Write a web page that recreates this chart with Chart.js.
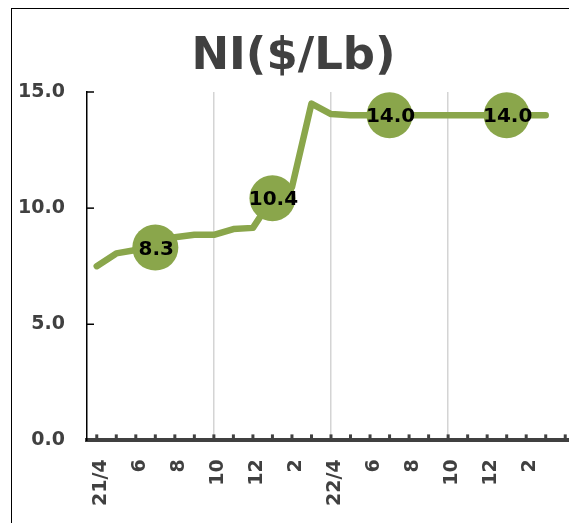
<!DOCTYPE html>
<html>
<head>
<meta charset="utf-8">
<script src="https://cdn.jsdelivr.net/npm/chart.js@4.4.1/dist/chart.umd.min.js"></script>
<style>
  html, body { margin: 0; padding: 0; overflow: hidden; background: #fff; }
  #frame { position: absolute; left: 11px; top: 8px; width: 600px; height: 540px; border: 1.5px solid #000; background: #fff; }
  #frame canvas { display: block; }
</style>
</head>
<body>
<div id="frame"><canvas id="niChart" width="600" height="540"></canvas></div>
<script>
// monthly, 2021/4 .. 2023/3 (one empty slot at the end)
var months = ["21/4", "5", "6", "7", "8", "9", "10", "11", "12", "1", "2", "3",
              "22/4", "5", "6", "7", "8", "9", "10", "11", "12", "1", "2", "3", ""];
var niPrice = [7.5, 8.05, 8.2, 8.3, 8.75, 8.85, 8.85, 9.1, 9.15, 10.43, 10.9, 14.5,
               14.05, 14.0, 14.0, 14.0, 14.0, 14.0, 14.0, 14.0, 14.0, 14.0, 14.0, 14.0];
var labeledPoints = [3, 9, 15, 21];
var gridMonths = [6, 12, 18];
var yTicks = [0, 5, 10, 15];

var green = "#8aa64b";
var font = "DejaVu Sans";

// tick marks pointing into the plot, like the original
var inwardTicks = {
    id: "inwardTicks",
    beforeDatasetsDraw: function (chart) {
        var ctx = chart.ctx, x = chart.scales.x, y = chart.scales.y, area = chart.chartArea;
        ctx.save();
        ctx.strokeStyle = "#404040";
        ctx.lineWidth = 3;
        for (var i = 0; i < x.ticks.length; i++) {
            var px = x.getPixelForTick(i);
            ctx.beginPath();
            ctx.moveTo(px, area.bottom);
            ctx.lineTo(px, area.bottom - 6);
            ctx.stroke();
        }
        ctx.strokeStyle = "#000";
        ctx.lineWidth = 1.5;
        yTicks.forEach(function (v) {
            if (v === 0) return;
            var py = y.getPixelForValue(v);
            ctx.beginPath();
            ctx.moveTo(area.left, py);
            ctx.lineTo(area.left + 7, py);
            ctx.stroke();
        });
        ctx.restore();
    }
};

// value labels on top of the big dots
var pointLabels = {
    id: "pointLabels",
    afterDatasetsDraw: function (chart) {
        var ctx = chart.ctx;
        var meta = chart.getDatasetMeta(0);
        ctx.save();
        ctx.font = "bold 20px '" + font + "'";
        ctx.fillStyle = "#000";
        ctx.textAlign = "center";
        ctx.textBaseline = "middle";
        labeledPoints.forEach(function (i) {
            var pt = meta.data[i];
            ctx.fillText(niPrice[i].toFixed(1), pt.x + 1, pt.y + 2);
        });
        ctx.restore();
    }
};

new Chart("niChart", {
    type: "line",
    data: {
        labels: months,
        datasets: [{
            data: niPrice,
            borderColor: green,
            borderWidth: 6.5,
            borderJoinStyle: "round",
            borderCapStyle: "round",
            tension: 0,
            pointRadius: function (c) { return labeledPoints.indexOf(c.dataIndex) >= 0 ? 23 : 0; },
            pointHoverRadius: function (c) { return labeledPoints.indexOf(c.dataIndex) >= 0 ? 23 : 0; },
            pointBackgroundColor: green,
            pointBorderWidth: 0
        }]
    },
    plugins: [inwardTicks, pointLabels],
    options: {
        responsive: false,
        animation: false,
        events: [],
        layout: { padding: { left: 0, right: 37, top: 0, bottom: 24 } },
        plugins: {
            legend: { display: false },
            tooltip: { enabled: false },
            title: {
                display: true,
                text: "NI($/Lb)",
                color: "#404040",
                font: { family: font, size: 45, weight: "bold" },
                padding: { top: 21, bottom: 8 }
            }
        },
        scales: {
            x: {
                offset: true,
                border: { color: "#404040", width: 4 },
                grid: {
                    drawTicks: false,
                    lineWidth: 1.5,
                    color: function (c) { return gridMonths.indexOf(c.index) >= 0 ? "#d4d4d4" : "rgba(0,0,0,0)"; }
                },
                ticks: {
                    autoSkip: false,
                    minRotation: 90,
                    maxRotation: 90,
                    padding: 19,
                    labelOffset: 4,
                    color: "#404040",
                    font: { family: font, size: 19, weight: "bold" },
                    callback: function (v, i) { return i % 2 === 0 ? months[i] : ""; }
                }
            },
            y: {
                min: 0,
                max: 15,
                afterBuildTicks: function (s) { s.ticks = yTicks.map(function (v) { return { value: v }; }); },
                afterFit: function (s) { s.width = 75; },
                border: { color: "#000", width: 1.5 },
                grid: { drawOnChartArea: false, drawTicks: false },
                ticks: {
                    padding: 22,
                    color: "#404040",
                    font: { family: font, size: 19, weight: "bold" },
                    callback: function (v) { return v.toFixed(1); }
                }
            }
        }
    }
});
</script>
</body>
</html>
